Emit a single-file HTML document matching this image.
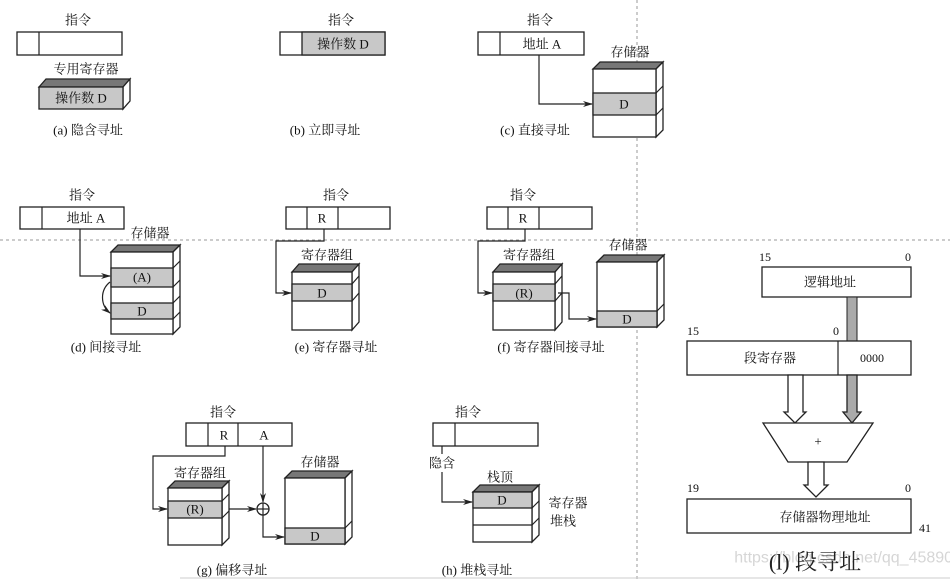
<!DOCTYPE html>
<html><head><meta charset="utf-8"><style>
html,body{margin:0;padding:0;background:#fff;}
svg{display:block;}
text{font-family:"Liberation Serif","Noto Serif CJK SC",serif;font-size:13px;fill:#111;text-anchor:middle;dominant-baseline:central;}
.b{fill:none;stroke:#222;stroke-width:1.3;}
.w{fill:#fff;stroke:#222;stroke-width:1.3;}
.g{fill:#c8c8c8;stroke:#222;stroke-width:1.3;}
.t{fill:#777;stroke:#222;stroke-width:1.3;}
.l{fill:none;stroke:#222;stroke-width:1.2;}
</style></head><body>
<svg width="950" height="579" viewBox="0 0 950 579" xmlns="http://www.w3.org/2000/svg">
<defs><marker id="ar" markerWidth="10" markerHeight="6" refX="9" refY="3" orient="auto" markerUnits="userSpaceOnUse"><path d="M0,0 L10,3 L0,6 L3,3 Z" fill="#222"/></marker></defs>

<!-- dashed guides -->
<line x1="0" y1="240" x2="950" y2="240" stroke="#999" stroke-dasharray="3,3"/>
<line x1="637" y1="0" x2="637" y2="579" stroke="#999" stroke-dasharray="3,3"/>

<!-- (a) -->
<text x="78" y="20">指令</text>
<rect class="w" x="17" y="32" width="105" height="23"/><line class="l" x1="39" y1="32" x2="39" y2="55"/>
<text x="86" y="69">专用寄存器</text>
<polygon class="t" points="39,87 46,79 130,79 123,87"/>
<polygon class="w" points="123,87 130,79 130,101 123,109"/>
<rect class="g" x="39" y="87" width="84" height="22"/>
<text x="81" y="98">操作数 D</text>
<text x="88" y="130">(a) 隐含寻址</text>

<!-- (b) -->
<text x="341" y="20">指令</text>
<rect class="w" x="280" y="32" width="105" height="23"/>
<rect class="g" x="302" y="32" width="83" height="23"/>
<text x="343" y="44">操作数 D</text>
<text x="325" y="130">(b) 立即寻址</text>

<!-- (c) -->
<text x="540" y="20">指令</text>
<rect class="w" x="478" y="32" width="106" height="23"/><line class="l" x1="500" y1="32" x2="500" y2="55"/>
<text x="542" y="44">地址 A</text>
<text x="630" y="52">存储器</text>
<polygon class="t" points="593,69 600,62 663,62 656,69"/>
<polygon class="w" points="656,69 663,62 663,130 656,137"/>
<line class="l" x1="656" y1="93" x2="663" y2="86"/><line class="l" x1="656" y1="115" x2="663" y2="108"/>
<rect class="w" x="593" y="69" width="63" height="68"/>
<rect class="g" x="593" y="93" width="63" height="22"/>
<text x="624" y="104">D</text>
<polyline class="l" points="539,55 539,104 592,104" marker-end="url(#ar)"/>
<text x="535" y="130">(c) 直接寻址</text>

<!-- (d) -->
<text x="82" y="195">指令</text>
<rect class="w" x="20" y="207" width="104" height="22"/><line class="l" x1="42" y1="207" x2="42" y2="229"/>
<text x="86" y="218">地址 A</text>
<text x="150" y="233">存储器</text>
<polygon class="t" points="111,252 118,245 180,245 173,252"/>
<polygon class="w" points="173,252 180,245 180,327 173,334"/>
<line class="l" x1="173" y1="268" x2="180" y2="261"/><line class="l" x1="173" y1="287" x2="180" y2="280"/>
<line class="l" x1="173" y1="303" x2="180" y2="296"/><line class="l" x1="173" y1="319" x2="180" y2="312"/>
<rect class="w" x="111" y="252" width="62" height="82"/>
<rect class="g" x="111" y="268" width="62" height="19"/>
<rect class="g" x="111" y="303" width="62" height="16"/>
<text x="142" y="277">(A)</text><text x="142" y="311">D</text>
<polyline class="l" points="80,229 80,276 110,276" marker-end="url(#ar)"/>
<path class="l" d="M110,282 C100,290 100,305 110,313" marker-end="url(#ar)"/>
<text x="106" y="347">(d) 间接寻址</text>

<!-- (e) -->
<text x="336" y="195">指令</text>
<rect class="w" x="286" y="207" width="104" height="22"/>
<line class="l" x1="307" y1="207" x2="307" y2="229"/><line class="l" x1="338" y1="207" x2="338" y2="229"/>
<text x="322" y="218">R</text>
<polyline class="l" points="324,229 324,241 276,241 276,293 291,293" marker-end="url(#ar)"/>
<text x="327" y="255">寄存器组</text>
<polygon class="t" points="292,272 299,264 359,264 352,272"/>
<polygon class="w" points="352,272 359,264 359,322 352,330"/>
<line class="l" x1="352" y1="284" x2="359" y2="276"/><line class="l" x1="352" y1="301" x2="359" y2="293"/>
<rect class="w" x="292" y="272" width="60" height="58"/>
<rect class="g" x="292" y="284" width="60" height="17"/>
<text x="322" y="293">D</text>
<text x="336" y="347">(e) 寄存器寻址</text>

<!-- (f) -->
<text x="523" y="195">指令</text>
<rect class="w" x="487" y="207" width="105" height="22"/>
<line class="l" x1="508" y1="207" x2="508" y2="229"/><line class="l" x1="539" y1="207" x2="539" y2="229"/>
<text x="523" y="218">R</text>
<polyline class="l" points="525,229 525,241 478,241 478,293 492,293" marker-end="url(#ar)"/>
<text x="529" y="255">寄存器组</text>
<polygon class="t" points="493,272 500,264 562,264 555,272"/>
<polygon class="w" points="555,272 562,264 562,322 555,330"/>
<line class="l" x1="555" y1="284" x2="562" y2="276"/><line class="l" x1="555" y1="301" x2="562" y2="293"/>
<rect class="w" x="493" y="272" width="62" height="58"/>
<rect class="g" x="493" y="284" width="62" height="17"/>
<text x="524" y="293">(R)</text>
<polyline class="l" points="558,293 569,293 569,319 596,319" marker-end="url(#ar)"/>
<text x="628" y="245">存储器</text>
<polygon class="t" points="597,262 604,255 664,255 657,262"/>
<polygon class="w" points="657,262 664,255 664,320 657,327"/>
<line class="l" x1="657" y1="311" x2="664" y2="304"/>
<rect class="w" x="597" y="262" width="60" height="65"/>
<rect class="g" x="597" y="311" width="60" height="16"/>
<text x="627" y="319">D</text>
<text x="551" y="347">(f) 寄存器间接寻址</text>

<!-- (g) -->
<text x="223" y="412">指令</text>
<rect class="w" x="186" y="423" width="106" height="23"/>
<line class="l" x1="208" y1="423" x2="208" y2="446"/><line class="l" x1="238" y1="423" x2="238" y2="446"/>
<text x="224" y="435">R</text><text x="264" y="435">A</text>
<polyline class="l" points="225,446 225,456 153,456 153,509 167,509" marker-end="url(#ar)"/>
<text x="200" y="473">寄存器组</text>
<polygon class="t" points="168,488 175,481 229,481 222,488"/>
<polygon class="w" points="222,488 229,481 229,538 222,545"/>
<line class="l" x1="222" y1="501" x2="229" y2="494"/><line class="l" x1="222" y1="518" x2="229" y2="511"/>
<rect class="w" x="168" y="488" width="54" height="57"/>
<rect class="g" x="168" y="501" width="54" height="17"/>
<text x="195" y="509">(R)</text>
<circle cx="263" cy="509" r="6" class="b"/>
<line class="l" x1="257" y1="509" x2="269" y2="509"/><line class="l" x1="263" y1="503" x2="263" y2="515"/>
<line class="l" x1="229" y1="509" x2="256" y2="509" marker-end="url(#ar)"/>
<line class="l" x1="263" y1="446" x2="263" y2="502" marker-end="url(#ar)"/>
<polyline class="l" points="263,515 263,537 284,537" marker-end="url(#ar)"/>
<text x="320" y="462">存储器</text>
<polygon class="t" points="285,478 292,471 352,471 345,478"/>
<polygon class="w" points="345,478 352,471 352,537 345,544"/>
<line class="l" x1="345" y1="528" x2="352" y2="521"/>
<rect class="w" x="285" y="478" width="60" height="66"/>
<rect class="g" x="285" y="528" width="60" height="16"/>
<text x="315" y="536">D</text>
<text x="232" y="570">(g) 偏移寻址</text>

<!-- (h) -->
<text x="468" y="412">指令</text>
<rect class="w" x="433" y="423" width="105" height="23"/><line class="l" x1="455" y1="423" x2="455" y2="446"/>
<line class="l" x1="442" y1="446" x2="442" y2="454"/>
<text x="442" y="463">隐含</text>
<polyline class="l" points="442,472 442,502 472,502" marker-end="url(#ar)"/>
<text x="500" y="477">栈顶</text>
<polygon class="t" points="473,492 480,485 539,485 532,492"/>
<polygon class="w" points="532,492 539,485 539,535 532,542"/>
<line class="l" x1="532" y1="508" x2="539" y2="501"/><line class="l" x1="532" y1="525" x2="539" y2="518"/>
<rect class="w" x="473" y="492" width="59" height="50"/>
<rect class="g" x="473" y="492" width="59" height="16"/>
<line class="l" x1="473" y1="525" x2="532" y2="525"/>
<text x="502" y="500">D</text>
<text x="568" y="503">寄存器</text><text x="563" y="521">堆栈</text>
<text x="477" y="570">(h) 堆栈寻址</text>

<!-- (l) -->
<text x="765" y="257" style="font-size:12px">15</text><text x="908" y="257" style="font-size:12px">0</text>
<rect class="w" x="762" y="267" width="149" height="30"/>
<text x="830" y="282">逻辑地址</text>
<rect x="847" y="297" width="10" height="44" fill="#aaa" stroke="#222" stroke-width="1"/>
<text x="693" y="331" style="font-size:12px">15</text><text x="836" y="331" style="font-size:12px">0</text>
<rect class="w" x="687" y="341" width="224" height="34"/>
<line class="l" x1="838" y1="341" x2="838" y2="375"/>
<text x="770" y="358">段寄存器</text><text x="872" y="358" style="font-size:12px">0000</text>
<polygon points="788,375 803,375 803,412 806,412 795,423 784,412 788,412" fill="#fff" stroke="#222" stroke-width="1.3"/>
<polygon points="847,375 857,375 857,412 861,412 852,423 843,412 847,412" fill="#aaa" stroke="#222" stroke-width="1.3"/>
<polygon class="w" points="763,423 873,423 847,462 788,462"/>
<text x="818" y="441">+</text>
<polygon points="808,462 824,462 824,485 828,485 816,497 804,485 808,485" fill="#fff" stroke="#222" stroke-width="1.3"/>
<text x="693" y="488" style="font-size:12px">19</text><text x="908" y="488" style="font-size:12px">0</text>
<rect class="w" x="687" y="499" width="224" height="34"/>
<text x="825" y="517">存储器物理地址</text>
<text x="925" y="528" style="font-size:12px">41</text>
<text x="857" y="558" style="font-family:'Liberation Sans',sans-serif;font-size:16px;fill:#d6d6d6">https://blog.csdn.net/qq_45890533</text>
<text x="815" y="562" style="font-size:22px;fill:#222">(l) 段寻址</text>
<line x1="180" y1="578" x2="950" y2="578" stroke="#ccc"/>
</svg>
</body></html>
